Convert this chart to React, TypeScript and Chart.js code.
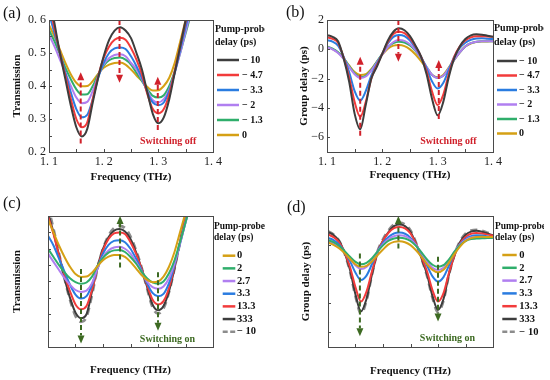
import React, { useEffect, useRef } from 'react';
import { Chart, registerables } from 'chart.js';

Chart.register(...registerables);

const SERIF = "'Liberation Serif', 'Times New Roman', serif";
Chart.defaults.font.family = SERIF;
Chart.defaults.color = '#222';

// ---------- shared axis data ----------
const FREQ = [1.10, 1.11, 1.12, 1.13, 1.14, 1.15, 1.16, 1.17, 1.18, 1.19, 1.20, 1.21, 1.22, 1.23, 1.24, 1.25,
  1.26, 1.27, 1.28, 1.29, 1.30, 1.31, 1.32, 1.33, 1.34, 1.35, 1.36, 1.37, 1.38, 1.39, 1.40];

const X_TICKS = [1.1, 1.15, 1.2, 1.25, 1.3, 1.35, 1.4];
const X_TICK_LABELS = ['1. 1', '', '1. 2', '', '1. 3', '', '1. 4'];
const T_TICKS = [0.2, 0.25, 0.3, 0.35, 0.4, 0.45, 0.5, 0.55, 0.6];
const T_TICK_LABELS = ['0. 2', '', '0. 3', '', '0. 4', '', '0. 5', '', '0. 6'];
const G_TICKS = [-6, -4, -2, 0, 2];
const G_TICK_LABELS = ['−6', '−4', '−2', '0', '2'];

const OFF_LABELS = ['− 10', '− 4.7', '− 3.3', '− 2', '− 1.3', '0'];
const ON_LABELS = ['0', '2', '2.7', '3.3', '13.3', '333', '− 10'];

// ---------- (a) transmission, switching off ----------
const TA_N10 = [0.68, 0.59, 0.50, 0.42, 0.34, 0.275, 0.247, 0.27, 0.35, 0.425, 0.49, 0.54, 0.568, 0.578, 0.568, 0.545, 0.50, 0.45, 0.38, 0.315, 0.287, 0.305, 0.36, 0.44, 0.52, 0.60, 0.67, 0.73, 0.78, 0.81, 0.83];
const TA_N4_7 = [0.65, 0.575, 0.50, 0.43, 0.36, 0.30, 0.275, 0.29, 0.36, 0.43, 0.485, 0.52, 0.54, 0.546, 0.54, 0.515, 0.48, 0.435, 0.375, 0.33, 0.317, 0.33, 0.375, 0.445, 0.52, 0.595, 0.66, 0.72, 0.77, 0.80, 0.82];
const TA_N3_3 = [0.62, 0.56, 0.50, 0.44, 0.38, 0.33, 0.305, 0.313, 0.36, 0.425, 0.47, 0.50, 0.514, 0.517, 0.512, 0.49, 0.46, 0.425, 0.38, 0.35, 0.342, 0.35, 0.385, 0.44, 0.51, 0.58, 0.645, 0.70, 0.75, 0.79, 0.81];
const TA_N2 = [0.555, 0.52, 0.48, 0.44, 0.40, 0.365, 0.348, 0.352, 0.385, 0.43, 0.465, 0.485, 0.494, 0.496, 0.49, 0.47, 0.45, 0.42, 0.385, 0.357, 0.35, 0.36, 0.39, 0.44, 0.50, 0.565, 0.63, 0.69, 0.74, 0.78, 0.80];
const TA_N1_3 = [0.57, 0.535, 0.495, 0.455, 0.42, 0.39, 0.374, 0.375, 0.40, 0.435, 0.462, 0.478, 0.485, 0.486, 0.48, 0.465, 0.44, 0.415, 0.39, 0.37, 0.365, 0.372, 0.40, 0.445, 0.50, 0.56, 0.62, 0.68, 0.73, 0.77, 0.80];
const TA_0 = [0.585, 0.55, 0.51, 0.47, 0.435, 0.41, 0.399, 0.40, 0.415, 0.437, 0.455, 0.465, 0.47, 0.471, 0.465, 0.45, 0.432, 0.415, 0.397, 0.386, 0.387, 0.40, 0.425, 0.47, 0.535, 0.60, 0.66, 0.71, 0.75, 0.79, 0.82];

// ---------- (b) group delay, switching off ----------
const GB_N10 = [0.97, 0.85, 0.55, -0.6, -2.2, -4.4, -5.45, -3.8, -2.0, -1.2, -0.3, 0.6, 1.2, 1.43, 1.3, 0.9, 0.25, -0.5, -1.7, -3.4, -4.5, -3.6, -1.9, -0.6, 0.2, 0.7, 0.95, 1.02, 1.0, 0.93, 0.86];
const GB_N4_7 = [0.82, 0.72, 0.45, -0.55, -1.9, -3.6, -4.6, -3.6, -2.0, -1.1, -0.3, 0.5, 1.05, 1.2, 1.1, 0.75, 0.2, -0.5, -1.5, -2.9, -3.8, -3.1, -1.7, -0.5, 0.2, 0.6, 0.82, 0.9, 0.9, 0.87, 0.85];
const GB_N3_3 = [0.63, 0.52, 0.25, -0.5, -1.55, -2.85, -3.5, -2.85, -1.8, -1.0, -0.3, 0.4, 0.85, 0.97, 0.9, 0.6, 0.1, -0.5, -1.3, -2.2, -2.67, -2.3, -1.4, -0.5, 0.1, 0.45, 0.65, 0.74, 0.75, 0.72, 0.7];
const GB_N2 = [0.15, 0.0, -0.25, -0.65, -1.2, -1.7, -1.95, -1.85, -1.45, -0.9, -0.35, 0.15, 0.5, 0.63, 0.58, 0.35, -0.05, -0.6, -1.2, -1.75, -1.95, -1.8, -1.3, -0.7, -0.2, 0.2, 0.42, 0.52, 0.55, 0.55, 0.55];
const GB_N1_3 = [0.2, 0.05, -0.2, -0.6, -1.15, -1.65, -1.9, -1.8, -1.4, -0.85, -0.3, 0.15, 0.42, 0.52, 0.47, 0.27, -0.1, -0.6, -1.2, -1.75, -1.95, -1.8, -1.3, -0.7, -0.2, 0.2, 0.42, 0.52, 0.55, 0.55, 0.55];
const GB_0 = [0.18, 0.02, -0.22, -0.6, -1.1, -1.55, -1.75, -1.7, -1.35, -0.85, -0.35, 0.05, 0.25, 0.29, 0.22, 0.0, -0.35, -0.8, -1.3, -1.75, -1.9, -1.75, -1.25, -0.7, -0.2, 0.2, 0.4, 0.5, 0.53, 0.54, 0.55];

// ---------- (c) transmission, switching on ----------
const TC_0 = [0.59, 0.55, 0.51, 0.475, 0.445, 0.423, 0.414, 0.415, 0.427, 0.447, 0.465, 0.476, 0.481, 0.481, 0.475, 0.46, 0.44, 0.42, 0.405, 0.398, 0.40, 0.415, 0.445, 0.49, 0.55, 0.61, 0.67, 0.72, 0.76, 0.79, 0.81];
const TC_2 = [0.50, 0.475, 0.45, 0.428, 0.41, 0.398, 0.393, 0.397, 0.415, 0.448, 0.472, 0.488, 0.495, 0.496, 0.49, 0.475, 0.455, 0.43, 0.41, 0.397, 0.393, 0.40, 0.425, 0.465, 0.52, 0.58, 0.64, 0.70, 0.75, 0.78, 0.80];
const TC_2_7 = [0.485, 0.46, 0.435, 0.41, 0.39, 0.374, 0.368, 0.372, 0.395, 0.44, 0.475, 0.495, 0.504, 0.506, 0.50, 0.485, 0.46, 0.43, 0.40, 0.383, 0.378, 0.385, 0.41, 0.455, 0.515, 0.58, 0.64, 0.70, 0.75, 0.78, 0.80];
const TC_3_3 = [0.54, 0.51, 0.47, 0.43, 0.39, 0.36, 0.348, 0.355, 0.39, 0.44, 0.485, 0.512, 0.524, 0.526, 0.52, 0.50, 0.47, 0.435, 0.395, 0.365, 0.355, 0.362, 0.395, 0.45, 0.515, 0.58, 0.645, 0.70, 0.75, 0.79, 0.81];
const TC_13_3 = [0.60, 0.545, 0.48, 0.42, 0.37, 0.33, 0.315, 0.325, 0.375, 0.44, 0.495, 0.53, 0.547, 0.55, 0.545, 0.52, 0.485, 0.44, 0.39, 0.345, 0.33, 0.34, 0.38, 0.445, 0.52, 0.595, 0.67, 0.73, 0.78, 0.81, 0.83];
const TC_333 = [0.61, 0.55, 0.48, 0.41, 0.35, 0.305, 0.288, 0.30, 0.37, 0.445, 0.50, 0.535, 0.555, 0.56, 0.553, 0.53, 0.49, 0.44, 0.385, 0.33, 0.312, 0.325, 0.37, 0.44, 0.52, 0.60, 0.68, 0.74, 0.79, 0.82, 0.84];
const TC_N10 = [0.63, 0.56, 0.485, 0.41, 0.345, 0.295, 0.277, 0.292, 0.36, 0.44, 0.50, 0.54, 0.563, 0.57, 0.563, 0.537, 0.495, 0.443, 0.38, 0.322, 0.302, 0.318, 0.368, 0.44, 0.52, 0.60, 0.68, 0.74, 0.79, 0.82, 0.84];

// ---------- (d) group delay, switching on ----------
const GD_0 = [0.18, 0.02, -0.22, -0.55, -0.95, -1.33, -1.49, -1.42, -1.12, -0.7, -0.3, 0.05, 0.22, 0.27, 0.2, 0.0, -0.35, -0.8, -1.3, -1.7, -1.87, -1.7, -1.2, -0.6, -0.1, 0.28, 0.48, 0.56, 0.57, 0.56, 0.55];
const GD_2 = [0.35, 0.2, -0.05, -0.4, -0.8, -1.15, -1.32, -1.22, -0.9, -0.45, -0.02, 0.3, 0.46, 0.5, 0.45, 0.28, -0.05, -0.5, -0.98, -1.35, -1.49, -1.38, -0.98, -0.45, 0.0, 0.28, 0.42, 0.45, 0.47, 0.48, 0.5];
const GD_2_7 = [0.27, 0.12, -0.12, -0.5, -0.95, -1.4, -1.64, -1.5, -1.05, -0.45, 0.05, 0.42, 0.62, 0.68, 0.62, 0.4, 0.0, -0.55, -1.1, -1.55, -1.71, -1.55, -1.05, -0.45, 0.05, 0.35, 0.52, 0.56, 0.56, 0.53, 0.5];
const GD_3_3 = [0.5, 0.35, 0.05, -0.45, -1.1, -1.9, -2.4, -2.1, -1.3, -0.45, 0.15, 0.55, 0.8, 0.86, 0.78, 0.5, 0.0, -0.65, -1.4, -2.15, -2.51, -2.2, -1.4, -0.55, 0.05, 0.42, 0.62, 0.68, 0.66, 0.6, 0.55];
const GD_13_3 = [0.73, 0.55, 0.2, -0.5, -1.5, -2.9, -3.88, -3.2, -1.8, -0.5, 0.3, 0.85, 1.17, 1.25, 1.15, 0.8, 0.1, -0.8, -1.8, -3.1, -3.88, -3.3, -1.9, -0.7, 0.1, 0.55, 0.78, 0.84, 0.8, 0.72, 0.65];
const GD_333 = [0.9, 0.7, 0.3, -0.5, -1.7, -3.4, -4.55, -3.7, -2.0, -0.5, 0.3, 0.9, 1.3, 1.41, 1.3, 0.9, 0.1, -0.9, -2.0, -3.5, -4.45, -3.7, -2.0, -0.7, 0.2, 0.7, 0.93, 0.98, 0.92, 0.8, 0.68];
const GD_N10 = [0.95, 0.72, 0.3, -0.55, -1.8, -3.5, -4.7, -3.8, -2.0, -0.45, 0.4, 1.0, 1.42, 1.55, 1.42, 1.0, 0.15, -0.9, -2.1, -3.6, -4.6, -3.8, -2.0, -0.65, 0.25, 0.78, 1.0, 1.05, 0.98, 0.85, 0.72];

// ---------- styling ----------
const C_BLACK = '#3d3d3d';
const C_RED = '#f23b3b';
const C_BLUE = '#2a7ce0';
const C_PURPLE = '#b07ff0';
const C_GREEN = '#2fae6b';
const C_GOLD = '#d5a015';
const C_DASH = '#8c8c8c';
const FRAME = '#4a4a4a';
const ARROW_RED = '#d0212b';
const ARROW_GREEN = '#3d6a22';

const OFF_COLORS = [C_BLACK, C_RED, C_BLUE, C_PURPLE, C_GREEN, C_GOLD];
const ON_COLORS = [C_GOLD, C_GREEN, C_PURPLE, C_BLUE, C_RED, C_BLACK, C_DASH];

const PANELS: any[] = [
  {
    key: 'a', x: 0, y: 0, w: 265, h: 190, area: { l: 49, t: 20, r: 213, b: 152 },
    yMin: 0.2, yMax: 0.6, yTicks: T_TICKS, yLabels: T_TICK_LABELS, xLabels: X_TICK_LABELS,
    yTitle: 'Transmission', yTitleX: 17, xTitleY: 177,
    series: [TA_N10, TA_N4_7, TA_N3_3, TA_N2, TA_N1_3, TA_0], labels: OFF_LABELS, colors: OFF_COLORS,
    legend: { titleDx: 2, titleY: [29, 42], itemY0: 60, itemStep: 15, line: [4, 26], textDx: 29, titleSize: 10, itemSize: 10 },
    arrows: [{ x: 1.158, from: 0.226, to: 0.442 }, { x: 1.229, from: 0.6, to: 0.41 }, { x: 1.299, from: 0.267, to: 0.428 }],
    arrowColor: ARROW_RED, note: { text: 'Switching off', x: 1.2665, y: 0.233 },
    tag: { text: '(a)', x: 3, y: 14 },
  },
  {
    key: 'b', x: 270, y: 0, w: 274, h: 190, area: { l: 57, t: 20, r: 223, b: 152 },
    yMin: -7, yMax: 2, yTicks: G_TICKS, yLabels: G_TICK_LABELS, xLabels: X_TICK_LABELS,
    yTitle: 'Group delay (ps)', yTitleX: 34, xTitleY: 175,
    series: [GB_N10, GB_N4_7, GB_N3_3, GB_N2, GB_N1_3, GB_0], labels: OFF_LABELS, colors: OFF_COLORS,
    legend: { titleDx: 1, titleY: [28, 42], itemY0: 61, itemStep: 14.5, line: [4, 24], textDx: 26, titleSize: 10, itemSize: 10 },
    arrows: [{ x: 1.16, from: -5.9, to: -0.5 }, { x: 1.229, from: 2.0, to: -0.85 }, { x: 1.302, from: -4.75, to: -0.73 }],
    arrowColor: ARROW_RED, note: { text: 'Switching off', x: 1.2686, y: -6.27 },
    tag: { text: '(b)', x: 16, y: 13 },
  },
  {
    key: 'c', x: 0, y: 190, w: 265, h: 190, area: { l: 48, t: 26, r: 213, b: 157 },
    yMin: 0.2, yMax: 0.6, yTicks: T_TICKS, yLabels: T_TICKS.map(() => ''), xLabels: X_TICKS.map(() => ''),
    yTitle: 'Transmission', yTitleX: 17, xTitleY: 180,
    series: [TC_0, TC_2, TC_2_7, TC_3_3, TC_13_3, TC_333, TC_N10], labels: ON_LABELS, colors: ON_COLORS,
    legend: { titleDx: 1, titleY: [36.7, 47.7], itemY0: 65.7, itemStep: 12.67, line: [9.7, 22.3], textDx: 24, titleSize: 9.5, itemSize: 10.5 },
    arrows: [{ x: 1.16, from: 0.438, to: 0.211 }, { x: 1.231, from: 0.443, to: 0.6 }, { x: 1.3, from: 0.428, to: 0.25 }],
    arrowColor: ARROW_GREEN, note: { text: 'Switching on', x: 1.267, y: 0.224 },
    tag: { text: '(c)', x: 3, y: 14 },
  },
  {
    key: 'd', x: 270, y: 190, w: 274, h: 190, area: { l: 58, t: 26, r: 223, b: 157 },
    yMin: -7, yMax: 2, yTicks: G_TICKS, yLabels: G_TICKS.map(() => ''), xLabels: X_TICKS.map(() => ''),
    yTitle: 'Group delay (ps)', yTitleX: 36, xTitleY: 181,
    series: [GD_0, GD_2, GD_2_7, GD_3_3, GD_13_3, GD_333, GD_N10], labels: ON_LABELS, colors: ON_COLORS,
    legend: { titleDx: 2, titleY: [36.7, 47.3], itemY0: 65, itemStep: 12.8, line: [9.3, 23.7], textDx: 26.3, titleSize: 9.5, itemSize: 10.5 },
    arrows: [{ x: 1.158, from: -0.57, to: -6.27 }, { x: 1.228, from: -0.23, to: 2.0 }, { x: 1.3, from: -0.8, to: -5.25 }],
    arrowColor: ARROW_GREEN, note: { text: 'Switching on', x: 1.267, y: -6.43 },
    tag: { text: '(d)', x: 17, y: 18 },
  },
];

function overlayPlugin(cfg: any) {
  return {
    id: 'overlay-' + cfg.key,
    afterDraw(chart: any) {
      const ctx = chart.ctx;
      const a = chart.chartArea;
      const xs = chart.scales.x;
      const ys = chart.scales.y;
      ctx.save();

      // arrows
      for (const ar of cfg.arrows) {
        const px = xs.getPixelForValue(ar.x);
        const p0 = ys.getPixelForValue(ar.from);
        const p1 = ys.getPixelForValue(ar.to);
        const dir = p1 > p0 ? 1 : -1;
        const head = 8;
        ctx.strokeStyle = cfg.arrowColor;
        ctx.fillStyle = cfg.arrowColor;
        ctx.lineWidth = 2;
        ctx.setLineDash([5, 3]);
        ctx.beginPath();
        ctx.moveTo(px, p0);
        ctx.lineTo(px, p1 - dir * head);
        ctx.stroke();
        ctx.setLineDash([]);
        ctx.beginPath();
        ctx.moveTo(px, p1);
        ctx.lineTo(px - 3.5, p1 - dir * head);
        ctx.lineTo(px + 3.5, p1 - dir * head);
        ctx.closePath();
        ctx.fill();
      }

      // note
      ctx.fillStyle = cfg.arrowColor;
      ctx.font = `bold 10px ${SERIF}`;
      ctx.textAlign = 'left';
      ctx.textBaseline = 'middle';
      ctx.fillText(cfg.note.text, xs.getPixelForValue(cfg.note.x), ys.getPixelForValue(cfg.note.y));

      // inward tick marks
      ctx.strokeStyle = FRAME;
      ctx.lineWidth = 1;
      ctx.beginPath();
      for (const t of xs.ticks) {
        if (t.value <= xs.min + 1e-9 || t.value >= xs.max - 1e-9) continue;
        const px = Math.round(xs.getPixelForValue(t.value)) + 0.5;
        ctx.moveTo(px, a.bottom);
        ctx.lineTo(px, a.bottom - 3);
      }
      for (const t of ys.ticks) {
        if (t.value <= ys.min + 1e-9 || t.value >= ys.max - 1e-9) continue;
        const py = Math.round(ys.getPixelForValue(t.value)) + 0.5;
        ctx.moveTo(a.left, py);
        ctx.lineTo(a.left + 3, py);
      }
      ctx.stroke();

      // frame
      const l = Math.round(a.left), t = Math.round(a.top), r = Math.round(a.right), b = Math.round(a.bottom);
      ctx.strokeRect(l + 0.5, t + 0.5, r - l, b - t);

      // legend
      const lg = cfg.legend;
      ctx.fillStyle = '#111';
      ctx.textAlign = 'left';
      ctx.textBaseline = 'middle';
      ctx.font = `bold ${lg.titleSize}px ${SERIF}`;
      ctx.fillText('Pump-probe', a.right + lg.titleDx, lg.titleY[0]);
      ctx.fillText('delay (ps)', a.right + lg.titleDx, lg.titleY[1]);
      chart.data.datasets.forEach((ds: any, i: number) => {
        const yy = lg.itemY0 + i * lg.itemStep;
        ctx.strokeStyle = ds.borderColor;
        ctx.lineWidth = 2.5;
        ctx.setLineDash(ds.borderDash && ds.borderDash.length ? [5, 2.5] : []);
        ctx.beginPath();
        ctx.moveTo(a.right + lg.line[0], yy);
        ctx.lineTo(a.right + lg.line[1], yy);
        ctx.stroke();
        ctx.setLineDash([]);
        ctx.fillStyle = '#111';
        ctx.font = `bold ${lg.itemSize}px ${SERIF}`;
        ctx.fillText(ds.label, a.right + lg.textDx, yy);
      });

      // panel tag
      ctx.fillStyle = '#111';
      ctx.font = `16px ${SERIF}`;
      ctx.fillText(cfg.tag.text, cfg.tag.x, cfg.tag.y);
      ctx.restore();
    },
  };
}

function Panel({ cfg }: { cfg: any }) {
  const ref = useRef<HTMLCanvasElement | null>(null);
  useEffect(() => {
    if (!ref.current) return;
    const { area } = cfg;
    const axisTitleFont = { size: 11, weight: 'bold' as const, family: SERIF };
    const tickFont = { size: 12, family: SERIF };
    const datasets = cfg.series.map((vals: number[], i: number) => {
      const dashed = cfg.labels[i] === '− 10' && cfg.series.length === 7;
      return {
        label: cfg.labels[i],
        data: FREQ.map((f, k) => ({ x: f, y: vals[k] })),
        borderColor: cfg.colors[i],
        borderWidth: dashed ? 2.8 : 2,
        borderDash: dashed ? [7, 5] : [],
        pointRadius: 0,
        fill: false,
        cubicInterpolationMode: 'monotone',
        clip: 0,
      };
    });
    const chart = new Chart(ref.current, {
      type: 'line',
      data: { datasets },
      options: {
        animation: false,
        responsive: false,
        events: [],
        layout: { padding: { top: area.t, right: cfg.w - area.r, left: 0, bottom: 0 } },
        plugins: { legend: { display: false }, tooltip: { enabled: false }, title: { display: false } },
        scales: {
          x: {
            type: 'linear',
            min: 1.1,
            max: 1.4,
            grid: { display: false, drawTicks: false },
            border: { display: false },
            afterBuildTicks: (s: any) => { s.ticks = X_TICKS.map((v) => ({ value: v })); },
            afterFit: (s: any) => { s.height = cfg.h - area.b; },
            ticks: {
              autoSkip: false, maxRotation: 0, minRotation: 0, padding: 3, font: tickFont, color: '#222',
              callback: (_v: any, i: number) => cfg.xLabels[i],
            },
            title: {
              display: true, text: 'Frequency (THz)', font: axisTitleFont, color: '#111',
              padding: { top: 0, bottom: cfg.h - cfg.xTitleY - 6.6 },
            },
          },
          y: {
            type: 'linear',
            min: cfg.yMin,
            max: cfg.yMax,
            grid: { display: false, drawTicks: false },
            border: { display: false },
            afterBuildTicks: (s: any) => { s.ticks = cfg.yTicks.map((v: number) => ({ value: v })); },
            afterFit: (s: any) => { s.width = area.l; },
            ticks: {
              autoSkip: false, padding: 3, font: tickFont, color: '#222',
              callback: (_v: any, i: number) => cfg.yLabels[i],
            },
            title: {
              display: true, text: cfg.yTitle, font: axisTitleFont, color: '#111',
              padding: { top: cfg.yTitleX - 6.6, bottom: 0 },
            },
          },
        },
      } as any,
      plugins: [overlayPlugin(cfg)],
    });
    return () => chart.destroy();
  }, [cfg]);
  return (
    <canvas
      ref={ref}
      width={cfg.w}
      height={cfg.h}
      style={{ position: 'absolute', left: cfg.x, top: cfg.y, width: cfg.w, height: cfg.h }}
    />
  );
}

export default function App() {
  return (
    <div style={{ position: 'absolute', left: 0, top: 0, width: 550, height: 380, background: '#ffffff', overflow: 'hidden' }}>
      {PANELS.map((p) => <Panel key={p.key} cfg={p} />)}
    </div>
  );
}
